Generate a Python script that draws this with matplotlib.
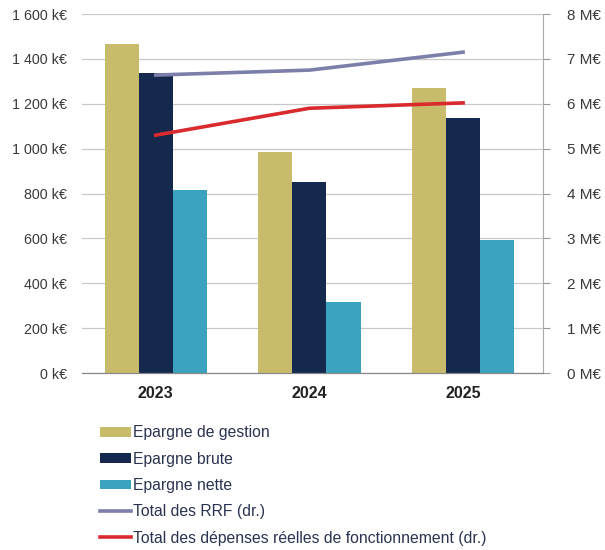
import numpy as np
import matplotlib
matplotlib.use('Agg')
import matplotlib.pyplot as plt
from matplotlib.ticker import FuncFormatter

years = ['2023', '2024', '2025']
epargne_gestion = [1466, 985, 1270]
epargne_brute = [1337, 851, 1136]
epargne_nette = [816, 316, 593]
total_rrf = [6.64, 6.75, 7.15]
total_drf = [5.30, 5.90, 6.02]

c_gestion = '#c9bb6c'
c_brute = '#14294d'
c_nette = '#3ba2bf'
c_rrf = '#7c7fa9'
c_drf = '#d92a2e'
txt = '#3a3a3a'

plt.rcParams['font.family'] = ['Liberation Sans', 'DejaVu Sans']

fig = plt.figure(figsize=(6.05, 5.5), dpi=100)
ax = fig.add_axes([0.1355, 0.3218, 0.762, 0.6527])
ax2 = ax.twinx()

x = np.arange(len(years))
w = 0.222
b1 = ax.bar(x - w, epargne_gestion, w, color=c_gestion, label='Epargne de gestion', zorder=2)
b2 = ax.bar(x, epargne_brute, w, color=c_brute, label='Epargne brute', zorder=2)
b3 = ax.bar(x + w, epargne_nette, w, color=c_nette, label='Epargne nette', zorder=2)

l1, = ax2.plot(x, total_rrf, color=c_rrf, lw=2.6, label='Total des RRF (dr.)')
l2, = ax2.plot(x, total_drf, color=c_drf, lw=2.6, label='Total des dépenses réelles de fonctionnement (dr.)')

ax.set_xlim(-0.48, 2.52)
ax.set_ylim(0, 1600)
ax.set_yticks(range(0, 1601, 200))
ax2.set_ylim(0, 8)
ax2.set_yticks(range(0, 9))

ax.yaxis.set_major_formatter(FuncFormatter(lambda v, p: f'{int(v):,} k€'.replace(',', ' ')))
ax2.yaxis.set_major_formatter(FuncFormatter(lambda v, p: f'{int(v)} M€'))

ax.grid(axis='y', color='#c8c8c8', lw=0.9, zorder=0)
ax.set_axisbelow(True)
ax.set_xticks(x)
ax.set_xticklabels(years, fontsize=11.5, fontweight='bold', color='#222222')
ax.tick_params(axis='x', length=0, pad=9)
ax.tick_params(axis='y', length=0, labelsize=10.3, labelcolor=txt, pad=11)
ax2.tick_params(axis='y', length=5, color='#999999', labelsize=11, labelcolor=txt, pad=12)

for a in (ax, ax2):
    a.spines['top'].set_visible(False)
    a.spines['left'].set_visible(False)
ax.spines['right'].set_visible(False)
ax2.spines['right'].set_color('#aaaaaa')
ax2.spines['bottom'].set_color('#888888')
ax.spines['bottom'].set_color('#888888')

handles = [b1, b2, b3, l1, l2]
leg = fig.legend(handles, [h.get_label() for h in handles], loc='upper left',
                 bbox_to_anchor=(0.155, 0.238), frameon=False, fontsize=11.3,
                 handlelength=2.0, handleheight=0.55, handletextpad=0.1,
                 labelspacing=0.72, borderaxespad=0)
for t in leg.get_texts():
    t.set_color('#2a3350')

fig.savefig('out.png', dpi=100)
